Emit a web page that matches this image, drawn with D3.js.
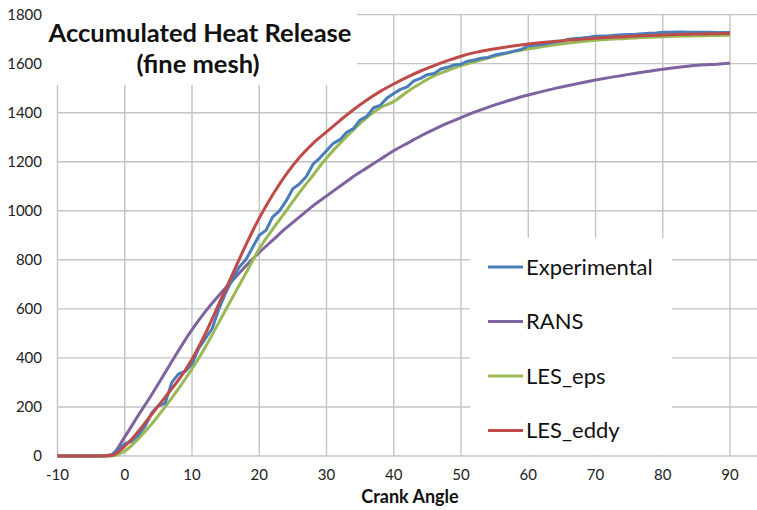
<!DOCTYPE html>
<html>
<head>
<meta charset="utf-8">
<script src="https://cdn.jsdelivr.net/npm/d3@7.9.0/dist/d3.min.js"></script>
<style>
  body { margin: 0; background: #fff; }
  svg { display: block; font-family: Lato, "Open Sans", sans-serif; }
</style>
</head>
<body>
<svg id="chart" width="757" height="510"></svg>
<script>
// crank angle grid for the simulated curves (2 deg step)
const angles = [-10, -8, -6, -4, -2, 0, 2, 4, 6, 8, 10, 12, 14, 16, 18, 20, 22, 24, 26, 28, 30,
  32, 34, 36, 38, 40, 42, 44, 46, 48, 50, 52, 54, 56, 58, 60, 62, 64, 66, 68, 70,
  72, 74, 76, 78, 80, 82, 84, 86, 88, 90];

const rans = [0, 0, 0, 0, 5, 78, 165, 250, 340, 430, 515, 590, 655, 715, 775, 830, 880, 930, 975, 1020, 1060,
  1100, 1140, 1175, 1210, 1245, 1275, 1305, 1332, 1357, 1380, 1402, 1422, 1440, 1457, 1472, 1486, 1499, 1511, 1522, 1533,
  1543, 1552, 1561, 1569, 1577, 1584, 1590, 1595, 1598, 1602];

const lesEps = [0, 0, 0, 0, 0, 20, 70, 130, 200, 275, 355, 445, 545, 645, 745, 845, 925, 1000, 1075, 1145, 1215,
  1275, 1330, 1380, 1420, 1445, 1485, 1520, 1550, 1572, 1592, 1608, 1623, 1637, 1650, 1660, 1669, 1677, 1684, 1690, 1695,
  1699, 1702, 1705, 1708, 1710, 1712, 1713, 1714, 1715, 1716];

const lesEddy = [0, 0, 0, 0, 2, 40, 100, 170, 240, 310, 395, 500, 620, 740, 860, 970, 1065, 1148, 1218, 1275, 1322,
  1368, 1412, 1452, 1487, 1517, 1545, 1570, 1592, 1612, 1630, 1645, 1656, 1665, 1673, 1680, 1686, 1691, 1696, 1700, 1704,
  1707, 1710, 1713, 1715, 1717, 1719, 1720, 1721, 1722, 1723];

// experimental trace is sampled every degree
const expAngles = d3.range(-10, 91);
const experimental = [0, 0, 0, 0, 0, 0, 0, 0, 3, 25, 50, 60, 85, 120, 175, 205, 215, 300, 335, 345,
  375, 440, 480, 520, 600, 665, 720, 770, 800, 850, 900, 920, 975, 1000, 1040, 1090, 1110, 1140, 1190, 1215,
  1245, 1275, 1290, 1320, 1335, 1370, 1385, 1420, 1430, 1460, 1478, 1495, 1505, 1530, 1540, 1555, 1560, 1578, 1585, 1595,
  1598, 1610, 1615, 1622, 1625, 1635, 1640, 1645, 1652, 1658, 1672, 1675, 1678, 1683, 1688, 1692, 1700, 1703, 1705, 1708,
  1712, 1713, 1714, 1716, 1718, 1719, 1720, 1722, 1724, 1725, 1728, 1728, 1729, 1729, 1728, 1728, 1728, 1728, 1727, 1727, 1727];

const xTicks = [-10, 0, 10, 20, 30, 40, 50, 60, 70, 80, 90];
const yTicks = [0, 200, 400, 600, 800, 1000, 1200, 1400, 1600, 1800];

const seriesNames = ["Experimental", "RANS", "LES_eps", "LES_eddy"];
const seriesColors = ["#4a7ebb", "#7f63a1", "#98b954", "#be4b48"];

const svg = d3.select("#chart");

const x = d3.scaleLinear().domain([-10, 100]).range([57.5, 57.5 + 110 * 6.725]);
const y = d3.scaleLinear().domain([0, 1800]).range([456, 14.6]);

// grid
const grid = svg.append("g").attr("stroke", "#c4c4c4").attr("stroke-width", 1.4);
grid.selectAll(".vg").data(xTicks.concat([100])).join("line")
  .attr("x1", d => x(d)).attr("x2", d => x(d))
  .attr("y1", y(1800)).attr("y2", y(0));
grid.selectAll(".hg").data(yTicks).join("line")
  .attr("x1", x(-10)).attr("x2", 757)
  .attr("y1", d => y(d)).attr("y2", d => y(d));

// axis labels
svg.append("g").selectAll("text").data(yTicks).join("text")
  .attr("x", 42).attr("y", d => y(d)).attr("dy", "0.35em")
  .attr("text-anchor", "end").attr("font-size", 15).attr("fill", "#222")
  .text(d => d);
svg.append("g").selectAll("text").data(xTicks).join("text")
  .attr("x", d => x(d)).attr("y", 475).attr("dy", "0.35em")
  .attr("text-anchor", "middle").attr("font-size", 15).attr("fill", "#222")
  .text(d => d);
svg.append("text").attr("x", 410).attr("y", 497).attr("dy", "0.35em")
  .attr("text-anchor", "middle").attr("font-size", 18).attr("font-weight", "bold")
  .attr("fill", "#111").text("Crank Angle");

// lines
const line = d3.line().x(d => x(d[0])).y(d => y(d[1]));
const smooth = d3.line().x(d => x(d[0])).y(d => y(d[1])).curve(d3.curveMonotoneX);
const seriesData = [
  d3.zip(expAngles, experimental),
  d3.zip(angles, rans),
  d3.zip(angles, lesEps),
  d3.zip(angles, lesEddy)
];
const drawOrder = [1, 2, 0, 3];
drawOrder.forEach(i => {
  svg.append("path")
    .attr("d", i === 0 ? line(seriesData[i]) : smooth(seriesData[i]))
    .attr("fill", "none")
    .attr("stroke", seriesColors[i])
    .attr("stroke-width", 3)
    .attr("stroke-linejoin", "round");
});

// title box
svg.append("rect").attr("x", 50).attr("y", 0).attr("width", 307).attr("height", 85).attr("fill", "#fff");
svg.append("text").attr("x", 200).attr("y", 42).attr("text-anchor", "middle")
  .attr("font-size", 25.5).attr("font-weight", "bold").attr("fill", "#111")
  .text("Accumulated Heat Release");
svg.append("text").attr("x", 198).attr("y", 73).attr("text-anchor", "middle")
  .attr("font-size", 25.5).attr("font-weight", "bold").attr("fill", "#111")
  .text("(fine mesh)");

// legend
svg.append("rect").attr("x", 470).attr("y", 238).attr("width", 202).attr("height", 217).attr("fill", "#fff");
const legend = svg.append("g").selectAll("g").data(seriesNames).join("g")
  .attr("transform", (d, i) => `translate(488, ${267 + i * 54.5})`);
legend.append("line").attr("x1", 0).attr("x2", 35)
  .attr("stroke", (d, i) => seriesColors[i]).attr("stroke-width", 3);
legend.append("text").attr("x", 38).attr("dy", "0.35em")
  .attr("font-size", 22).attr("fill", "#111").text(d => d);
</script>
</body>
</html>
